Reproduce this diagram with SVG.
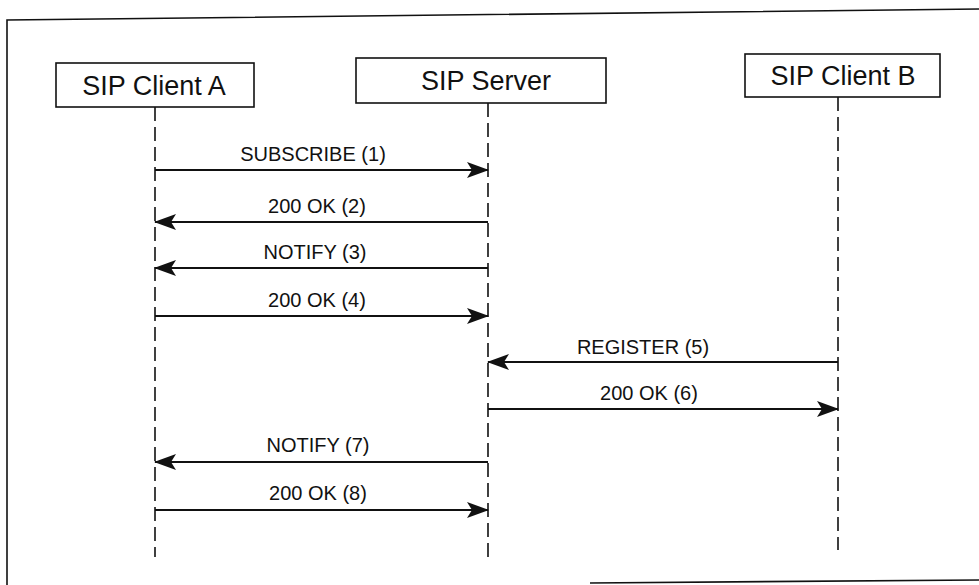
<svg xmlns="http://www.w3.org/2000/svg" width="979" height="585" viewBox="0 0 979 585">
<defs>
<style>
.box{fill:#fff;stroke:#111;stroke-width:1.6}
.title{font-family:"Liberation Sans",Arial,sans-serif;font-size:27px;fill:#111;text-anchor:middle}
.lbl{font-family:"Liberation Sans",Arial,sans-serif;font-size:20px;fill:#111;text-anchor:middle}
.life{stroke:#111;stroke-width:1.6;stroke-dasharray:14 6;fill:none}
.msg{stroke:#111;stroke-width:2;fill:none;marker-end:url(#ah)}
.frame{stroke:#111;stroke-width:1.6;fill:none}
</style>
<marker id="ah" markerWidth="22" markerHeight="16" refX="21" refY="8" orient="auto" markerUnits="userSpaceOnUse">
<path d="M0,0 L22,8 L0,16 L5,8 Z" fill="#111"/>
</marker>
</defs>
<rect width="979" height="585" fill="#fff"/>
<path class="frame" d="M7,585 L7,20 L979,9"/>
<path class="frame" d="M590,583 L979,580"/>
<g id="clientA">
<rect class="box" x="56" y="63" width="198" height="44"/>
<text class="title" x="154" y="95">SIP Client A</text>
</g>
<g id="server">
<rect class="box" x="356" y="58" width="250" height="45"/>
<text class="title" x="486" y="90">SIP Server</text>
</g>
<g id="clientB">
<rect class="box" x="745" y="54" width="195" height="43"/>
<text class="title" x="843" y="85">SIP Client B</text>
</g>
<g id="connectors">
<line class="life" x1="155" y1="107" x2="155" y2="557"/>
<line class="life" x1="488" y1="103" x2="488" y2="557"/>
<line class="life" x1="838" y1="97" x2="838" y2="550"/>
<line class="msg" x1="155" y1="170" x2="488" y2="170"/>
<line class="msg" x1="488" y1="222" x2="155" y2="222"/>
<line class="msg" x1="488" y1="268" x2="155" y2="268"/>
<line class="msg" x1="155" y1="316" x2="488" y2="316"/>
<line class="msg" x1="838" y1="362" x2="488" y2="362"/>
<line class="msg" x1="488" y1="409" x2="838" y2="409"/>
<line class="msg" x1="488" y1="462" x2="155" y2="462"/>
<line class="msg" x1="155" y1="510" x2="488" y2="510"/>
</g>
<g id="labels">
<text class="lbl" x="313" y="161">SUBSCRIBE (1)</text>
<text class="lbl" x="317" y="213">200 OK (2)</text>
<text class="lbl" x="315" y="259">NOTIFY (3)</text>
<text class="lbl" x="317" y="307">200 OK (4)</text>
<text class="lbl" x="643" y="354">REGISTER (5)</text>
<text class="lbl" x="649" y="400">200 OK (6)</text>
<text class="lbl" x="318" y="452">NOTIFY (7)</text>
<text class="lbl" x="318" y="500">200 OK (8)</text>
</g>
</svg>
